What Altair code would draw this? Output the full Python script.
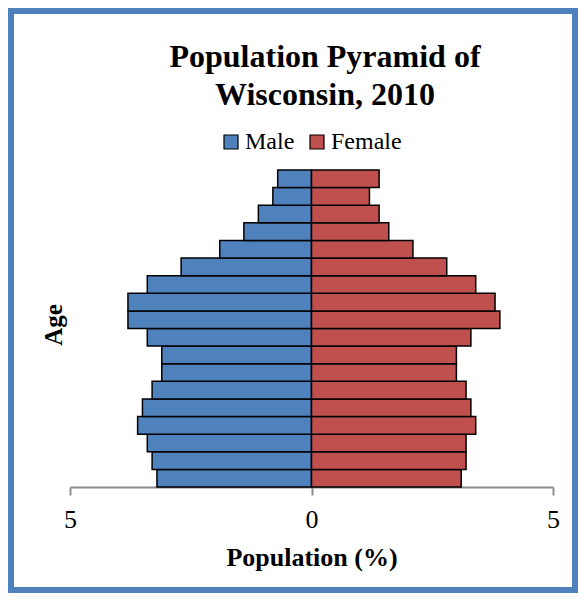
import altair as alt
import pandas as pd

ages = ["0-4", "5-9", "10-14", "15-19", "20-24", "25-29", "30-34", "35-39",
        "40-44", "45-49", "50-54", "55-59", "60-64", "65-69", "70-74",
        "75-79", "80-84", "85+"]
male = [3.2, 3.3, 3.4, 3.6, 3.5, 3.3, 3.1, 3.1, 3.4, 3.8, 3.8, 3.4, 2.7,
        1.9, 1.4, 1.1, 0.8, 0.7]
female = [3.1, 3.2, 3.2, 3.4, 3.3, 3.2, 3.0, 3.0, 3.3, 3.9, 3.8, 3.4, 2.8,
          2.1, 1.6, 1.4, 1.2, 1.4]
sexes = ["Male", "Female"]
colors = ["#4F81BD", "#C0504D"]
title_lines = ["Population Pyramid of", "Wisconsin, 2010"]

rows = []
for a, m, f in zip(ages, male, female):
    rows.append({"age": a, "sex": "Male", "pop": -m})
    rows.append({"age": a, "sex": "Female", "pop": f})
df = pd.DataFrame(rows)

W, H = 483, 317
PL, PT, PR, PB = 62, 162, 25, 106
FONT = "Liberation Serif"

bars = alt.Chart(df).mark_bar(stroke="black", strokeWidth=1.5).encode(
    y=alt.Y("age:N", sort=list(reversed(ages)), axis=None,
            scale=alt.Scale(paddingInner=0, paddingOuter=0)),
    x=alt.X("pop:Q", scale=alt.Scale(domain=[-5, 5], nice=False),
            axis=alt.Axis(values=[-5, 0, 5], labelExpr="abs(datum.value)",
                          grid=False, domainColor="#8C8C8C", domainWidth=2,
                          tickColor="#8C8C8C", tickWidth=2, tickSize=8,
                          labelFlush=False,
                          labelFont=FONT, labelFontSize=26, labelColor="black",
                          labelPadding=11, title="Population (%)",
                          titleFont=FONT, titleFontSize=26, titleFontWeight="bold",
                          titleColor="black", titleBaseline="alphabetic",
                          titleY=78)),
    color=alt.Color("sex:N", scale=alt.Scale(domain=sexes, range=colors),
                    legend=alt.Legend(title=None, orient="none", direction="horizontal",
                                      legendX=149, legendY=-40, symbolType="square",
                                      symbolSize=196, symbolStrokeColor="black",
                                      symbolStrokeWidth=1.2, labelFont=FONT,
                                      labelFontSize=24, labelColor="black",
                                      labelOffset=2, columnPadding=10, padding=0)),
)

tdf = pd.DataFrame({"t": title_lines, "yy": [-103, -65]})
title = alt.Chart(tdf).mark_text(font=FONT, fontSize=32, fontWeight="bold",
                                 align="center", baseline="alphabetic",
                                 color="black").encode(
    x=alt.value(255), y=alt.Y("yy:Q", scale=None, axis=None),
    text="t:N")

age = alt.Chart(pd.DataFrame({"t": ["Age"]})).mark_text(
    font=FONT, fontSize=25, fontWeight="bold", angle=270, align="center",
    baseline="alphabetic", color="black").encode(
    x=alt.value(-8), y=alt.value(155), text="t:N")

frame = alt.Chart(pd.DataFrame({"t": [0]})).mark_rect(
    fill=None, stroke="#4F81BD", strokeWidth=6).encode(
    x=alt.value(-PL + 3), x2=alt.value(W + PR - 3),
    y=alt.value(-PT + 3), y2=alt.value(H + PB - 3))

chart = alt.layer(frame, bars, title, age).properties(
    width=W, height=H, autosize="none",
    padding={"left": PL, "top": PT, "right": PR, "bottom": PB},
).configure_view(stroke=None)

chart.save("out.html", embed_options={"renderer": "svg", "actions": False})
